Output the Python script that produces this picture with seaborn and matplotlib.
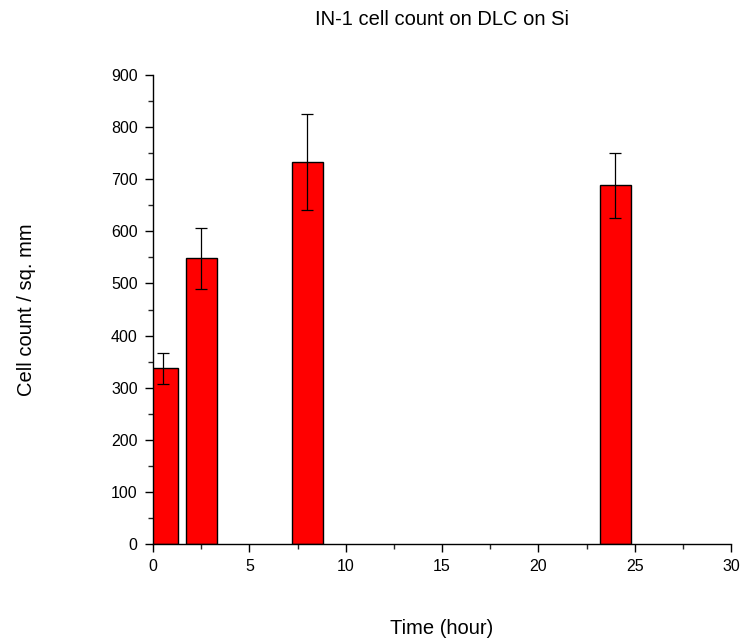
import matplotlib
matplotlib.use('Agg')
import matplotlib.pyplot as plt
from matplotlib.ticker import MultipleLocator
import seaborn as sns
import pandas as pd

# Cell count data
time_hours = [0.5, 2.5, 8, 24]
cell_count = [337, 548, 733, 688]
count_err = [30, 58, 92, 62]

sns.set_style('ticks')
plt.rcParams['font.family'] = ['Liberation Sans', 'DejaVu Sans']
plt.rcParams['text.color'] = 'black'
plt.rcParams['axes.labelcolor'] = 'black'

df = pd.DataFrame({'time': time_hours, 'count': cell_count})

fig = plt.figure(figsize=(7.43, 6.44), dpi=100)
ax = fig.add_axes([153 / 743, 100 / 644, 578 / 743, 469 / 644])

sns.barplot(data=df, x='time', y='count', native_scale=True, width=0.8,
            color='red', saturation=1, edgecolor='black', linewidth=1,
            errorbar=None, ax=ax)
ax.errorbar(time_hours, cell_count, yerr=count_err, fmt='none',
            ecolor='black', elinewidth=0.9, capsize=4, capthick=0.9)

ax.set_xlim(0, 30)
ax.set_ylim(0, 900)
ax.xaxis.set_major_locator(MultipleLocator(5))
ax.xaxis.set_minor_locator(MultipleLocator(2.5))
ax.yaxis.set_major_locator(MultipleLocator(100))
ax.yaxis.set_minor_locator(MultipleLocator(50))
ax.tick_params(which='major', direction='out', length=6, width=1, pad=5,
               labelsize=11.5, colors='black')
ax.tick_params(which='minor', direction='out', length=3.5, width=1)

sns.despine(ax=ax)
for s in ['left', 'bottom']:
    ax.spines[s].set_color('black')
    ax.spines[s].set_linewidth(1)

ax.set_title('IN-1 cell count on DLC on Si', fontsize=14.5, pad=36, color='black')
ax.set_xlabel('Time (hour)', fontsize=14.5, labelpad=32)
ax.set_ylabel('Cell count / sq. mm', fontsize=14.5, labelpad=54)

fig.savefig('out.png', dpi=100)
